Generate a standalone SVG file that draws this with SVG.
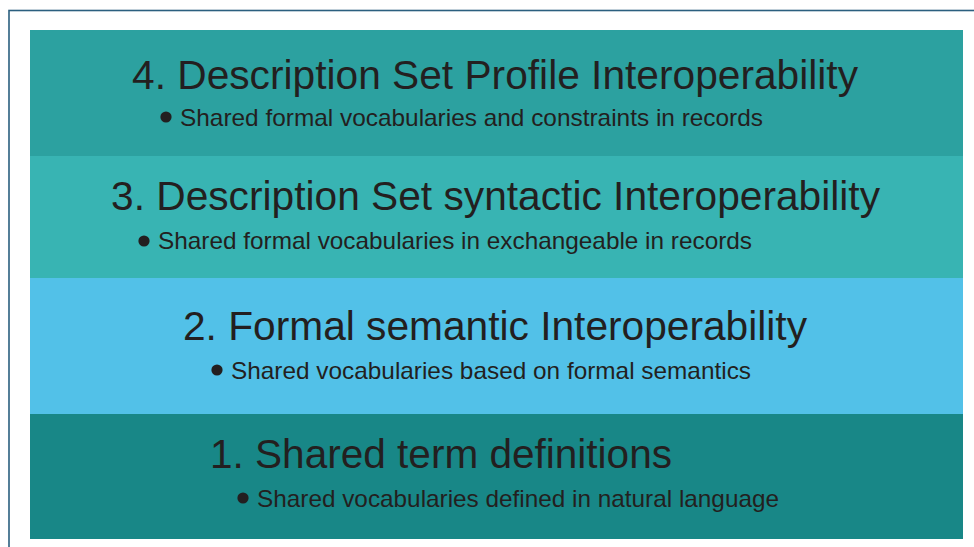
<svg xmlns="http://www.w3.org/2000/svg" width="974" height="547" viewBox="0 0 974 547">
  <style>
    .title { font-family: "Liberation Sans", Arial, sans-serif; font-size: 41px; fill: #231f20; }
    .sub { font-family: "Liberation Sans", Arial, sans-serif; font-size: 24px; fill: #231f20; }
    .dot { fill: #231f20; }
  </style>
  <rect x="0" y="0" width="974" height="547" fill="#ffffff"/>
  <!-- outer frame, extends past the right and bottom edges -->
  <rect x="9" y="10.5" width="1000" height="600" fill="none" stroke="#2b5f7f" stroke-width="1.6"/>

  <g id="level4">
    <rect x="30" y="30" width="933" height="126" fill="#2ca1a0"/>
    <text class="title" x="132" y="89" textLength="726" lengthAdjust="spacingAndGlyphs">4. Description Set Profile Interoperability</text>
    <circle class="dot" cx="166" cy="117" r="5.6"/>
    <text class="sub" x="180" y="126" textLength="583" lengthAdjust="spacingAndGlyphs">Shared formal vocabularies and constraints in records</text>
  </g>

  <g id="level3">
    <rect x="30" y="156" width="933" height="122" fill="#38b4b3"/>
    <text class="title" x="111" y="210" textLength="769" lengthAdjust="spacingAndGlyphs">3. Description Set syntactic Interoperability</text>
    <circle class="dot" cx="144" cy="241" r="5.6"/>
    <text class="sub" x="158" y="249" textLength="594" lengthAdjust="spacingAndGlyphs">Shared formal vocabularies in exchangeable in records</text>
  </g>

  <g id="level2">
    <rect x="30" y="278" width="933" height="136" fill="#52c1e8"/>
    <text class="title" x="183" y="340" textLength="624" lengthAdjust="spacingAndGlyphs">2. Formal semantic Interoperability</text>
    <circle class="dot" cx="217" cy="370" r="5.6"/>
    <text class="sub" x="231" y="379" textLength="520" lengthAdjust="spacingAndGlyphs">Shared vocabularies based on formal semantics</text>
  </g>

  <g id="level1">
    <rect x="30" y="414" width="933" height="125" fill="#188787"/>
    <text class="title" x="210" y="468" textLength="462" lengthAdjust="spacingAndGlyphs">1. Shared term definitions</text>
    <circle class="dot" cx="243" cy="498" r="5.6"/>
    <text class="sub" x="257" y="507" textLength="522" lengthAdjust="spacingAndGlyphs">Shared vocabularies defined in natural language</text>
  </g>

  <g id="connectors"/>
</svg>
